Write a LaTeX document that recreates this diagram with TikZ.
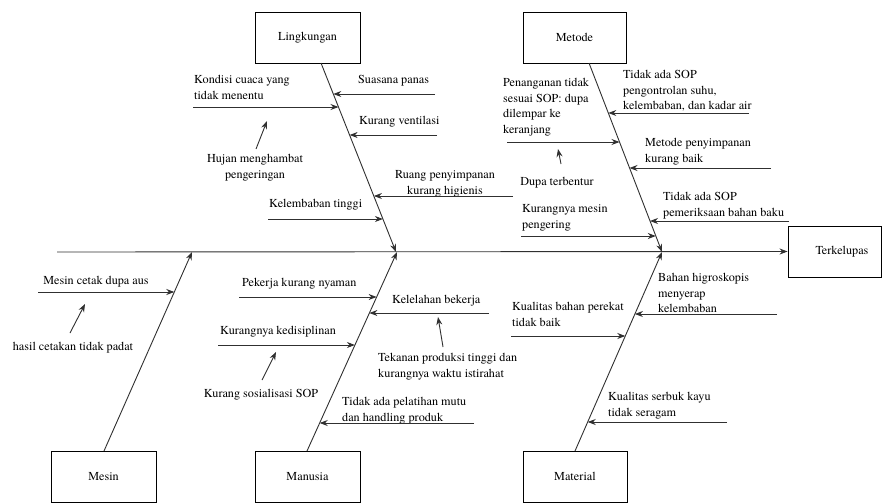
\documentclass[tikz,border=0pt]{standalone}
\usepackage{fontspec}
\IfFontExistsTF{texgyretermes-regular.otf}
  {\setmainfont{texgyretermes-regular.otf}}
  {\setmainfont{Liberation Serif}}
\usetikzlibrary{arrows.meta}
\definecolor{linegray}{HTML}{303030}
\begin{document}
\begin{tikzpicture}[x=1pt,y=-1pt,
  every node/.style={font=\rmfamily\fontsize{12.2}{15.5}\selectfont, inner sep=0pt, text=black},
  box/.style={draw=black, line width=0.9pt, minimum width=105pt, minimum height=51pt},
  arr/.style={draw=linegray, line width=0.9pt, -{Stealth[length=8pt,width=6pt]}},
  lbl/.style={anchor=north west, align=left},
  clbl/.style={anchor=north, align=center}]
\useasboundingbox (0,0) rectangle (882,503);

% category boxes
\node[box] (ling) at (307.5,37.5) {Lingkungan};
\node[box, minimum width=103pt] (met) at (574.5,37.5) {Metode};
\node[box] (mes) at (103.5,476.5) {Mesin};
\node[box] (man) at (307.5,476.5) {Manusia};
\node[box, minimum width=104pt] (mat) at (575,476.5) {Material};
\node[box, minimum width=93pt] (terk) at (834.5,251.5) {};
\node (terkt) at (842,252) {Terkelupas};

% spine coordinates
\coordinate (lingS) at (321,63);   \coordinate (lingE) at (396,252);
\coordinate (metS) at (589,63);    \coordinate (metE) at (662,252);
\coordinate (mesS) at (104,451);   \coordinate (mesE) at (192,252);
\coordinate (manS) at (307,451);   \coordinate (manE) at (397,252);
\coordinate (matS) at (575,451);   \coordinate (matE) at (662,252);
\coordinate (head0) at (57,252);

\draw[arr] (head0) -- (terk.west);
\draw[arr] (lingS) -- (lingE);
\draw[arr] (metS) -- (metE);
\draw[arr] (mesS) -- (mesE);
\draw[arr] (manS) -- (manE);
\draw[arr] (matS) -- (matE);

% Lingkungan causes
\node[lbl] (t1) at (358,72.6) {\strut Suasana panas};
\node[lbl] (t2) at (194,72.6) {\strut Kondisi cuaca yang\\tidak menentu};
\node[lbl] (t3) at (359,113.6) {\strut Kurang ventilasi};
\node[clbl] (t4) at (255,151.6) {\strut Hujan menghambat\\pengeringan};
\node[clbl] (t5) at (445,167.6) {\strut Ruang penyimpanan\\kurang higienis};
\node[lbl] (t6) at (269,196.6) {\strut Kelembaban tinggi};
\coordinate (a1s) at (435,94);  \coordinate (a1e) at (333.3,94);
\coordinate (a2s) at (193,107); \coordinate (a2e) at (338.5,107);
\coordinate (a3s) at (437,135); \coordinate (a3e) at (349.6,135);
\coordinate (a4s) at (513,196); \coordinate (a4e) at (373.9,196);
\coordinate (a5s) at (268,219); \coordinate (a5e) at (382.9,219);
\draw[arr] (a1s) -- (a1e);
\draw[arr] (a2s) -- (a2e);
\draw[arr] (a3s) -- (a3e);
\draw[arr] (a4s) -- (a4e);
\draw[arr] (a5s) -- (a5e);
\coordinate (h1s) at (256,149); \coordinate (h1e) at (267,121);
\draw[arr] (h1s) -- (h1e);

% Metode causes
\node[lbl] (u1) at (623,67.6) {\strut Tidak ada SOP\\pengontrolan suhu,\\kelembaban, dan kadar air};
\node[lbl] (u2) at (503,75.6) {\strut Penanganan tidak\\sesuai SOP: dupa\\dilempar ke\\keranjang};
\node[lbl] (u3) at (645,135.6) {\strut Metode penyimpanan\\kurang baik};
\node[clbl] (u4) at (557,174.6) {\strut Dupa terbentur};
\node[lbl] (u5) at (663,189.6) {\strut Tidak ada SOP\\pemeriksaan bahan baku};
\node[lbl] (u6) at (522,201.6) {\strut Kurangnya mesin\\pengering};
\coordinate (b1s) at (749,113); \coordinate (b1e) at (608.3,113);
\coordinate (b2s) at (507,142); \coordinate (b2e) at (619.5,142);
\coordinate (b3s) at (771,168); \coordinate (b3e) at (629.5,168);
\coordinate (b4s) at (789,221); \coordinate (b4e) at (650,221);
\coordinate (b5s) at (521,236); \coordinate (b5e) at (655.8,236);
\draw[arr] (b1s) -- (b1e);
\draw[arr] (b2s) -- (b2e);
\draw[arr] (b3s) -- (b3e);
\draw[arr] (b4s) -- (b4e);
\draw[arr] (b5s) -- (b5e);
\coordinate (h2s) at (561,164); \coordinate (h2e) at (558,149);
\draw[arr] (h2s) -- (h2e);

% Mesin causes
\node[clbl] (v1) at (96,273.6) {\strut Mesin cetak dupa aus};
\node[clbl] (v2) at (73,339.6) {\strut hasil cetakan tidak padat};
\coordinate (c1s) at (38,292); \coordinate (c1e) at (174.3,292);
\draw[arr] (c1s) -- (c1e);
\coordinate (h3s) at (70,333); \coordinate (h3e) at (85,304);
\draw[arr] (h3s) -- (h3e);

% Manusia causes
\node[lbl] (w1) at (242,275.6) {\strut Pekerja kurang nyaman};
\node[lbl] (w2) at (392,292.6) {\strut Kelelahan bekerja};
\node[lbl] (w3) at (220,323.6) {\strut Kurangnya kedisiplinan};
\node[lbl] (w4) at (378,350.6) {\strut Tekanan produksi tinggi dan\\kurangnya waktu istirahat};
\node[clbl] (w5) at (261,386.6) {\strut Kurang sosialisasi SOP};
\node[lbl] (w6) at (342,394.6) {\strut Tidak ada pelatihan mutu\\dan handling produk};
\coordinate (d1s) at (239,297); \coordinate (d1e) at (376.6,297);
\coordinate (d2s) at (489,313); \coordinate (d2e) at (369.4,313);
\coordinate (d3s) at (218,345); \coordinate (d3e) at (354.9,345);
\coordinate (d4s) at (474,423); \coordinate (d4e) at (319.7,423);
\draw[arr] (d1s) -- (d1e);
\draw[arr] (d2s) -- (d2e);
\draw[arr] (d3s) -- (d3e);
\draw[arr] (d4s) -- (d4e);
\coordinate (h4s) at (443,347); \coordinate (h4e) at (438,317);
\draw[arr] (h4s) -- (h4e);
\coordinate (h5s) at (262,380); \coordinate (h5e) at (276,352);
\draw[arr] (h5s) -- (h5e);

% Material causes
\node[lbl] (x1) at (658,270.6) {\strut Bahan higroskopis\\menyerap\\kelembaban};
\node[lbl] (x2) at (512,299.6) {\strut Kualitas bahan perekat\\tidak baik};
\node[lbl] (x3) at (608,389.6) {\strut Kualitas serbuk kayu\\tidak seragam};
\coordinate (e1s) at (777,314); \coordinate (e1e) at (634.9,314);
\coordinate (e2s) at (511,336); \coordinate (e2e) at (625.3,336);
\coordinate (e3s) at (727,422); \coordinate (e3e) at (587.7,422);
\draw[arr] (e1s) -- (e1e);
\draw[arr] (e2s) -- (e2e);
\draw[arr] (e3s) -- (e3e);
\end{tikzpicture}
\end{document}
